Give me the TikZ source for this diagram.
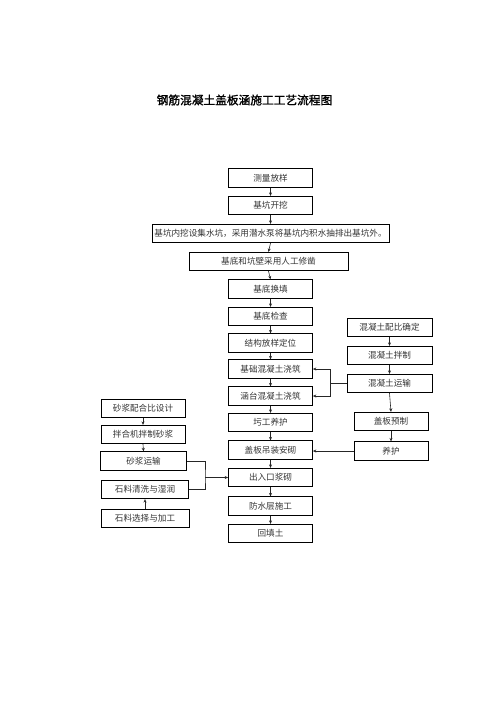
\documentclass[tikz,border=0pt]{standalone}
\usepackage{fontspec}
\newfontfamily\cjk{Noto Sans CJK SC}
\newfontfamily\cjkb[FakeBold=1.5]{Noto Sans CJK SC}
\usetikzlibrary{arrows.meta}
\definecolor{txt}{HTML}{333333}
\begin{document}
\begin{tikzpicture}[x=1pt,y=-1pt,
  box/.style={draw=black,line width=0.7pt,minimum height=18.5pt,inner sep=0.5pt,
    text=txt,font=\cjk\fontsize{8.6}{10}\selectfont},
  mw/.style={box,minimum width=84pt},
  conn/.style={line width=0.6pt,draw=black!85},
  arr/.style={conn,-{Stealth[length=3.5pt,width=3pt]}}]
\useasboundingbox (0,0) rectangle (496,702);
\node[font=\cjkb\fontsize{11.7}{13}\selectfont] (title) at (244.5,100) {钢筋混凝土盖板涵施工工艺流程图};
% main column
\node[mw] (a1) at (270.5,178) {测量放样};
\node[mw] (a2) at (270.5,205.5) {基坑开挖};
\node[box,minimum width=237pt] (a3) at (270.5,233.5) {基坑内挖设集水坑，采用潜水泵将基坑内积水抽排出基坑外。};
\node[box,minimum width=159pt] (a4) at (268.5,261.5) {基底和坑壁采用人工修凿};
\node[mw] (a5) at (270.5,289) {基底换填};
\node[mw] (a6) at (270.5,316.5) {基底检查};
\node[mw] (a7) at (270.5,343) {结构放样定位};
\node[mw] (a8) at (270.5,369) {基础混凝土浇筑};
\node[mw] (a9) at (270.5,396) {涵台混凝土浇筑};
\node[mw] (a10) at (270.5,422.5) {圬工养护};
\node[mw] (a11) at (270.5,450) {盖板吊装安砌};
\node[mw] (a12) at (270.5,477.5) {出入口浆砌};
\node[mw] (a13) at (270.5,506) {防水层施工};
\node[mw] (a14) at (270.5,533.5) {回填土};
\foreach \i/\j in {1/2,2/3,3/4,4/5,5/6,6/7,7/8,8/9,9/10,10/11,11/12,12/13,13/14}
  \draw[arr] (a\i.south) -- (a\j.north);
% right column
\node[box,minimum width=85pt] (r1) at (389.5,327.5) {混凝土配比确定};
\node[box,minimum width=85pt] (r2) at (389.5,355.5) {混凝土拌制};
\node[box,minimum width=85pt] (r3) at (389.5,383.5) {混凝土运输};
\node[box,minimum width=74pt] (r4) at (391,421.5) {盖板预制};
\node[box,minimum width=74pt] (r5) at (391,451) {养护};
\draw[arr] (r1.south) -- (r2.north);
\draw[arr] (r2.south) -- (r3.north);
\draw[arr] (r3.south) -- (r4.north);
\draw[arr] (r4.south) -- (r5.north);
\draw[conn] (r3.west) -- ++(-16,0) coordinate (br);
\draw[arr] (br) |- (a8.east);
\draw[arr] (br) |- (a9.east);
\draw[arr] (r5.west) -- (r5.west -| a11.east);
% left column
\node[box,minimum width=84pt] (l1) at (143,408.5) {砂浆配合比设计};
\node[box,minimum width=84pt] (l2) at (143,434.5) {拌合机拌制砂浆};
\node[box,minimum width=86pt] (l3) at (143.5,461) {砂浆运输};
\node[box,minimum width=87pt] (l4) at (145,489.5) {石料清洗与湿润};
\node[box,minimum width=88pt] (l5) at (145,518.5) {石料选择与加工};
\draw[arr] (l1.south) -- (l2.north);
\draw[arr] (l2.south) -- (l3.north);
\draw[arr] (l5.north) -- (l4.south);
\coordinate (bl) at (205,477.5);
\draw[conn] (l3.east) -| (bl) |- (l4.east);
\draw[arr] (bl) -- (a12.west);
\end{tikzpicture}
\end{document}
